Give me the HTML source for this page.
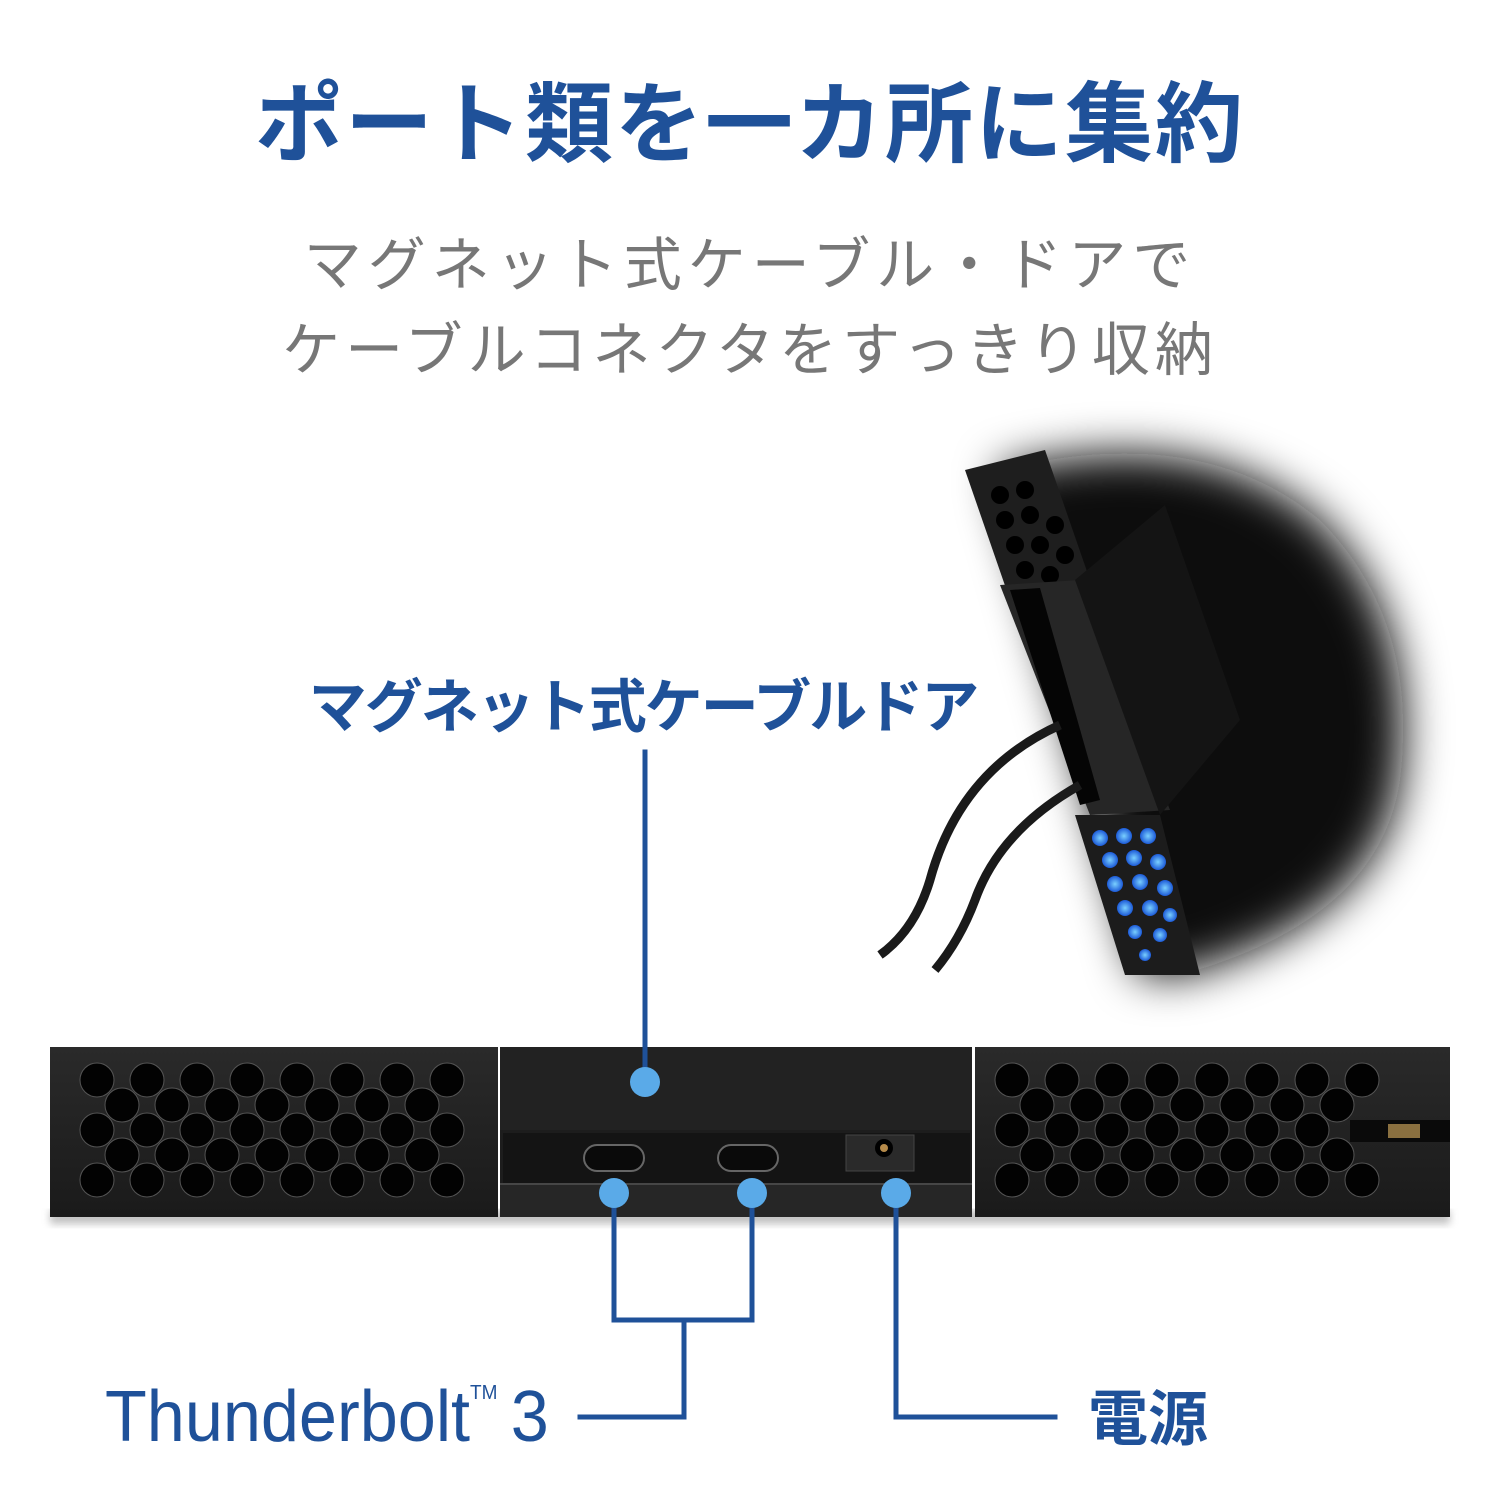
<!DOCTYPE html>
<html><head><meta charset="utf-8"><style>
html,body{margin:0;padding:0;background:#fff;}
svg{display:block;}
</style></head><body>
<svg width="1500" height="1500" viewBox="0 0 1500 1500" xmlns="http://www.w3.org/2000/svg">
<defs>
<filter id="blur" x="-20%" y="-20%" width="140%" height="140%"><feGaussianBlur stdDeviation="22"/></filter>
<filter id="sb" x="-10%" y="-10%" width="120%" height="140%"><feGaussianBlur stdDeviation="4"/></filter>
<linearGradient id="bar" x1="0" y1="0" x2="0" y2="1"><stop offset="0" stop-color="#2a2a2a"/><stop offset="1" stop-color="#1a1a1a"/></linearGradient>
<radialGradient id="blue" cx="0.5" cy="0.5" r="0.5"><stop offset="0" stop-color="#7ad0ff"/><stop offset="1" stop-color="#1c5ad8"/></radialGradient>
</defs>
<text x="750" y="155" text-anchor="middle" font-family="'Liberation Sans','Noto Sans CJK JP',sans-serif" font-weight="bold" font-size="88" fill="#1f5199" letter-spacing="2">ポート類を一カ所に集約</text>
<text x="750" y="285" text-anchor="middle" font-family="'Liberation Sans','Noto Sans CJK JP',sans-serif" font-size="58" fill="#777" letter-spacing="6">マグネット式ケーブル・ドアで</text>
<text x="750" y="370" text-anchor="middle" font-family="'Liberation Sans','Noto Sans CJK JP',sans-serif" font-size="58" fill="#777" letter-spacing="5">ケーブルコネクタをすっきり収納</text>

<!-- top right product -->
<path d="M1000 470 Q1200 420 1320 520 Q1420 620 1400 780 Q1380 920 1180 975 L1140 975 L1000 480 Z" fill="#0a0a0a" filter="url(#blur)"/>
<path d="M965 470 L1045 450 L1090 580 L1010 600 Z" fill="#1e1e1e"/>
<g fill="#000">
<circle cx="1000" cy="495" r="9"/><circle cx="1025" cy="490" r="9"/><circle cx="1005" cy="520" r="9"/><circle cx="1030" cy="515" r="9"/><circle cx="1055" cy="525" r="9"/><circle cx="1015" cy="545" r="9"/><circle cx="1040" cy="545" r="9"/><circle cx="1065" cy="555" r="9"/><circle cx="1025" cy="570" r="9"/><circle cx="1050" cy="575" r="9"/>
</g>
<path d="M1000 585 L1080 580 L1170 810 L1090 815 Z" fill="#262626"/>
<path d="M1010 590 L1040 588 L1100 800 L1080 805 Z" fill="#050505"/>
<path d="M1075 580 L1165 505 L1240 720 L1160 815 Z" fill="#141414"/>
<path d="M1075 815 L1160 815 L1200 975 L1125 975 Z" fill="#1c1c1c"/>
<g fill="url(#blue)">
<circle cx="1100" cy="838" r="8"/><circle cx="1124" cy="836" r="8"/><circle cx="1148" cy="836" r="8"/><circle cx="1110" cy="860" r="8"/><circle cx="1134" cy="858" r="8"/><circle cx="1158" cy="862" r="8"/><circle cx="1115" cy="884" r="8"/><circle cx="1140" cy="882" r="8"/><circle cx="1165" cy="888" r="8"/><circle cx="1125" cy="908" r="8"/><circle cx="1150" cy="908" r="8"/><circle cx="1170" cy="915" r="7"/><circle cx="1135" cy="932" r="7"/><circle cx="1160" cy="935" r="7"/><circle cx="1145" cy="955" r="6"/>
</g>
<path d="M1060 725 Q960 770 930 880 Q915 930 880 955" stroke="#1a1a1a" stroke-width="9" fill="none"/>
<path d="M1080 785 Q1000 830 975 900 Q960 940 935 970" stroke="#1a1a1a" stroke-width="9" fill="none"/>

<!-- label -->
<text x="643" y="727" text-anchor="middle" font-family="'Liberation Sans','Noto Sans CJK JP',sans-serif" font-weight="bold" font-size="58" fill="#1f5199" letter-spacing="-2">マグネット式ケーブルドア</text>

<!-- device bar -->
<rect x="50" y="1210" width="1400" height="14" fill="#999" filter="url(#sb)" opacity="0.6"/>
<rect x="50" y="1047" width="448" height="170" fill="url(#bar)"/>
<rect x="975" y="1047" width="475" height="170" fill="url(#bar)"/>
<rect x="500" y="1047" width="472" height="170" fill="#1d1d1d"/>
<rect x="500" y="1047" width="472" height="83" fill="#222"/>
<rect x="503" y="1133" width="467" height="50" fill="#141414"/>
<rect x="500" y="1185" width="472" height="32" fill="#262626"/>
<line x1="500" y1="1184" x2="972" y2="1184" stroke="#555" stroke-width="1.5"/>
<rect x="584" y="1145" width="60" height="26" rx="13" fill="#0a0a0a" stroke="#666" stroke-width="2"/>
<rect x="718" y="1145" width="60" height="26" rx="13" fill="#0a0a0a" stroke="#666" stroke-width="2"/>
<rect x="846" y="1135" width="68" height="36" fill="#2a2a2a" stroke="#444"/>
<circle cx="884" cy="1148" r="9" fill="#000"/><circle cx="884" cy="1148" r="4" fill="#b58a4a"/>
<rect x="1350" y="1120" width="100" height="22" fill="#0a0a0a"/>
<rect x="1388" y="1124" width="32" height="14" fill="#8a7040"/>
<g fill="#020202" stroke="#555" stroke-width="1">
<circle cx="97" cy="1080" r="17"/><circle cx="147" cy="1080" r="17"/><circle cx="197" cy="1080" r="17"/><circle cx="247" cy="1080" r="17"/><circle cx="297" cy="1080" r="17"/><circle cx="347" cy="1080" r="17"/><circle cx="397" cy="1080" r="17"/><circle cx="447" cy="1080" r="17"/>
<circle cx="122" cy="1105" r="17"/><circle cx="172" cy="1105" r="17"/><circle cx="222" cy="1105" r="17"/><circle cx="272" cy="1105" r="17"/><circle cx="322" cy="1105" r="17"/><circle cx="372" cy="1105" r="17"/><circle cx="422" cy="1105" r="17"/>
<circle cx="97" cy="1130" r="17"/><circle cx="147" cy="1130" r="17"/><circle cx="197" cy="1130" r="17"/><circle cx="247" cy="1130" r="17"/><circle cx="297" cy="1130" r="17"/><circle cx="347" cy="1130" r="17"/><circle cx="397" cy="1130" r="17"/><circle cx="447" cy="1130" r="17"/>
<circle cx="122" cy="1155" r="17"/><circle cx="172" cy="1155" r="17"/><circle cx="222" cy="1155" r="17"/><circle cx="272" cy="1155" r="17"/><circle cx="322" cy="1155" r="17"/><circle cx="372" cy="1155" r="17"/><circle cx="422" cy="1155" r="17"/>
<circle cx="97" cy="1180" r="17"/><circle cx="147" cy="1180" r="17"/><circle cx="197" cy="1180" r="17"/><circle cx="247" cy="1180" r="17"/><circle cx="297" cy="1180" r="17"/><circle cx="347" cy="1180" r="17"/><circle cx="397" cy="1180" r="17"/><circle cx="447" cy="1180" r="17"/>
<circle cx="1012" cy="1080" r="17"/><circle cx="1062" cy="1080" r="17"/><circle cx="1112" cy="1080" r="17"/><circle cx="1162" cy="1080" r="17"/><circle cx="1212" cy="1080" r="17"/><circle cx="1262" cy="1080" r="17"/><circle cx="1312" cy="1080" r="17"/><circle cx="1362" cy="1080" r="17"/>
<circle cx="1037" cy="1105" r="17"/><circle cx="1087" cy="1105" r="17"/><circle cx="1137" cy="1105" r="17"/><circle cx="1187" cy="1105" r="17"/><circle cx="1237" cy="1105" r="17"/><circle cx="1287" cy="1105" r="17"/><circle cx="1337" cy="1105" r="17"/>
<circle cx="1012" cy="1130" r="17"/><circle cx="1062" cy="1130" r="17"/><circle cx="1112" cy="1130" r="17"/><circle cx="1162" cy="1130" r="17"/><circle cx="1212" cy="1130" r="17"/><circle cx="1262" cy="1130" r="17"/><circle cx="1312" cy="1130" r="17"/>
<circle cx="1037" cy="1155" r="17"/><circle cx="1087" cy="1155" r="17"/><circle cx="1137" cy="1155" r="17"/><circle cx="1187" cy="1155" r="17"/><circle cx="1237" cy="1155" r="17"/><circle cx="1287" cy="1155" r="17"/><circle cx="1337" cy="1155" r="17"/>
<circle cx="1012" cy="1180" r="17"/><circle cx="1062" cy="1180" r="17"/><circle cx="1112" cy="1180" r="17"/><circle cx="1162" cy="1180" r="17"/><circle cx="1212" cy="1180" r="17"/><circle cx="1262" cy="1180" r="17"/><circle cx="1312" cy="1180" r="17"/><circle cx="1362" cy="1180" r="17"/>
</g>

<!-- connectors -->
<g stroke="#1f5199" stroke-width="5" fill="none" stroke-linecap="square">
<line x1="645" y1="752" x2="645" y2="1080"/>
<polyline points="614,1193 614,1320 752,1320 752,1193"/>
<polyline points="684,1320 684,1417 580,1417"/>
<polyline points="896,1193 896,1417 1055,1417"/>
</g>
<g fill="#5aaae8">
<circle cx="645" cy="1082" r="15"/>
<circle cx="614" cy="1193" r="15"/>
<circle cx="752" cy="1193" r="15"/>
<circle cx="896" cy="1193" r="15"/>
</g>

<g transform="translate(105,1441) scale(0.95,1)">
<text x="0" y="0" font-family="'Liberation Sans',sans-serif" font-size="72" fill="#1f5199">Thunderbolt<tspan font-size="20" dy="-42">TM</tspan><tspan dx="14" dy="42">3</tspan></text>
</g>
<text x="1088" y="1440" font-family="'Liberation Sans','Noto Sans CJK JP',sans-serif" font-weight="bold" font-size="60" fill="#1f5199">電源</text>
</svg>
</body></html>
